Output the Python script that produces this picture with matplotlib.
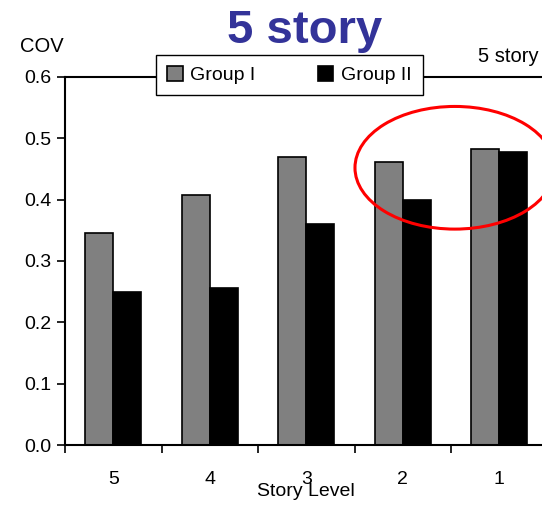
import matplotlib
matplotlib.use("Agg")
import matplotlib.pyplot as plt
from matplotlib.patches import Ellipse
import numpy as np

plt.rcParams['font.family'] = ['Liberation Sans', 'DejaVu Sans']

levels = ["5", "4", "3", "2", "1"]
group1 = [0.346, 0.408, 0.470, 0.461, 0.483]
group2 = [0.250, 0.256, 0.360, 0.400, 0.478]
yticks = [0.0, 0.1, 0.2, 0.3, 0.4, 0.5, 0.6]

fig = plt.figure(figsize=(5.42, 5.09), dpi=100)
ax = fig.add_axes([65/542, 1-445/509, 482.5/542, 368/509])

x = np.arange(len(levels))
w = 0.29
ax.bar(x - w/2, group1, w, color="#808080", edgecolor="black", linewidth=1.2, label="Group I")
ax.bar(x + w/2, group2, w, color="black", edgecolor="black", linewidth=1.2, label="Group II")

ax.set_xlim(-0.5, 4.5)
ax.set_ylim(0, 0.6)
ax.set_yticks(yticks)
ax.set_yticklabels([f"{v:.1f}" for v in yticks], fontsize=14)
ax.set_xticks(x)
ax.set_xticklabels(levels, fontsize=14)
ax.tick_params(axis='x', length=0, pad=19)
ax.set_xticks(np.arange(-0.5, 4.5, 1.0), minor=True)
ax.tick_params(axis='x', which='minor', length=6, width=1.2, direction='out')
ax.tick_params(axis='y', length=6, width=1.2, direction='out', pad=4)
for s in ax.spines.values():
    s.set_linewidth(1.5)

ax.set_xlabel("Story Level", fontsize=14, labelpad=-4)
fig.text(20/542, 1-47/509, "COV", fontsize=14.5, va='center', ha='left')
fig.text(478/542, 1-57/509, "5 story", fontsize=14.5, va='center', ha='left')
fig.text(305/542, 1-31/509, "5 story", fontsize=34, fontweight='bold', color="#333399",
         va='center', ha='center')

ell = Ellipse((3.54, 0.452), 2.07, 0.20, fill=False, edgecolor="red", linewidth=2.2,
              clip_on=False, zorder=5)
ax.add_patch(ell)

leg = ax.legend(loc='center', bbox_to_anchor=(289.5/542, 1-75/509), bbox_transform=fig.transFigure,
                ncol=2, fontsize=14, frameon=True, fancybox=False, edgecolor="black",
                framealpha=1, handlelength=0.8, handleheight=0.8, columnspacing=3.2,
                borderpad=0.55, handletextpad=0.4)
leg.get_frame().set_linewidth(1.0)

fig.savefig("out.png", dpi=100)
